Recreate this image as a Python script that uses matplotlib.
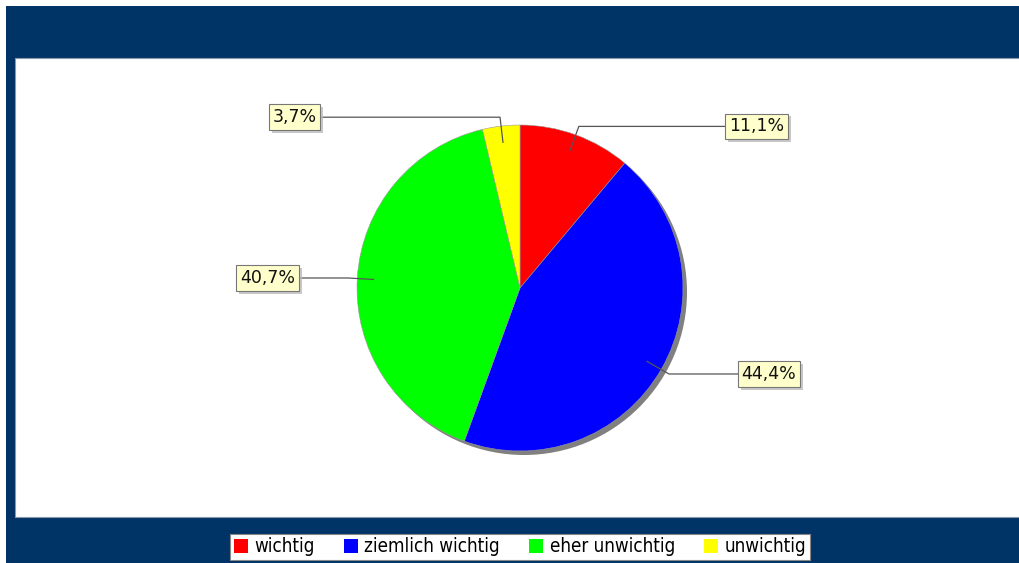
import numpy as np
import matplotlib
matplotlib.use("Agg")
import matplotlib.pyplot as plt
from matplotlib.patches import Rectangle, Circle, Patch
import matplotlib.patheffects as pe

# Antwortanteile in Prozent
categories = ["wichtig", "ziemlich wichtig", "eher unwichtig", "unwichtig"]
shares = [11.1, 44.4, 40.7, 3.7]
colors = ["#FF0000", "#0000FF", "#00FF00", "#FFFF00"]

NAVY = "#003366"
W, H = 1020, 563
CX, CY, R = 520, 288, 163   # Kreismitte und Radius in Pixel


def px(x, y):
    # Pixel (von oben links) -> Figurkoordinaten
    return x / W, 1 - y / H


fig = plt.figure(figsize=(W / 100, H / 100), dpi=100, facecolor="white")

# dunkler Rahmen und weisse Zeichenflaeche
fig.patches.append(Rectangle(px(6, H), (W - 6) / W, (H - 6) / H,
                             transform=fig.transFigure, facecolor=NAVY,
                             edgecolor="none", zorder=-2))
fig.patches.append(Rectangle(px(15, 517), (W - 15) / W, (517 - 58) / H,
                             transform=fig.transFigure, facecolor="white",
                             edgecolor="#8899aa", linewidth=0.8, zorder=-1))

# Achse ueber die weisse Flaeche, 1 Einheit = Radius
x0, y0 = px(15, 517)
ax = fig.add_axes([x0, y0, (W - 15) / W, (517 - 58) / H])
ax.set_zorder(2)

# Schatten
ax.add_patch(Circle((4 / R, -4 / R), 1.0, facecolor="#808080",
                    edgecolor="none", zorder=1))

wedges, _ = ax.pie(shares, colors=colors, startangle=90, counterclock=False,
                   radius=1.0, center=(0, 0), frame=True,
                   wedgeprops=dict(edgecolor="#999999", linewidth=0.4, zorder=2))
ax.set_xlim((15 - CX) / R, (W - CX) / R)
ax.set_ylim((CY - 517) / R, (CY - 58) / R)
ax.set_aspect("auto")
ax.axis("off")

# Beschriftungen mit Verbindungslinien
for w, v in zip(wedges, shares):
    ang = np.deg2rad((w.theta1 + w.theta2) / 2)
    c, s = np.cos(ang), np.sin(ang)
    ax_pt = (0.9 * c, 0.9 * s)
    elbow = (1.055 * c, 1.055 * s)
    side = 1 if c >= 0 else -1
    lx = side * (1.23 + 0.15 * abs(c))
    ax.plot([ax_pt[0], elbow[0], lx], [ax_pt[1], elbow[1], elbow[1]],
            color="#555555", linewidth=0.9, zorder=3)
    label = f"{v:.1f}".replace(".", ",") + "%"
    t = ax.text(lx, elbow[1], label, ha="left" if side > 0 else "right",
                va="center", fontsize=12.5, color="#111111", zorder=5,
                bbox=dict(boxstyle="square,pad=0.22", facecolor="#FFFFCC",
                          edgecolor="#777777", linewidth=0.8))
    t.get_bbox_patch().set_path_effects([
        pe.SimplePatchShadow(offset=(2, -2), shadow_rgbFace="#bbbbbb", alpha=0.8),
        pe.Normal()])

# Legende
handles = [Patch(facecolor=c, edgecolor="none", label=n) for n, c in zip(categories, colors)]
leg = fig.legend(handles=handles, loc="center", bbox_to_anchor=px(520, 547),
                 ncol=4, fontsize=13.5, frameon=True, fancybox=False,
                 handlelength=0.75, handleheight=0.85, handletextpad=0.35,
                 columnspacing=1.55, borderpad=0.2, borderaxespad=0)
leg.get_frame().set_edgecolor("#888888")
leg.get_frame().set_linewidth(0.8)
leg.get_frame().set_facecolor("white")
leg.get_frame().set_alpha(1)
for txt in leg.get_texts():
    txt.set_fontstretch("condensed")

fig.savefig("out.png", dpi=100, facecolor="white")
